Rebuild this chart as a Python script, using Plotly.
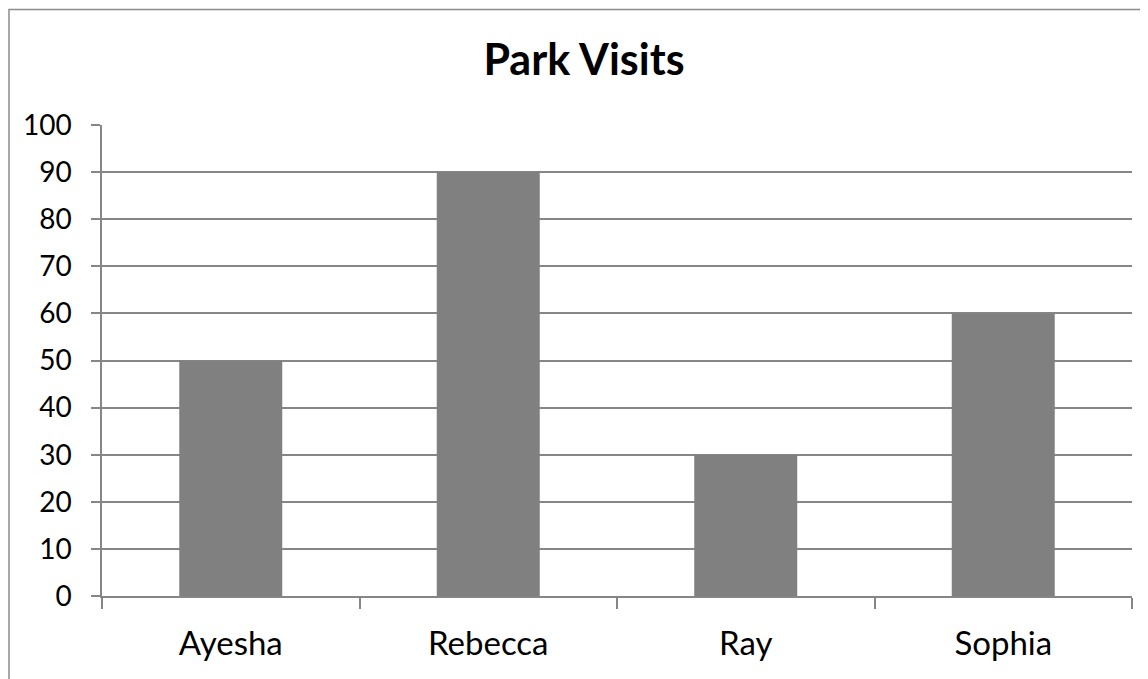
import plotly.graph_objects as go

categories = ["Ayesha", "Rebecca", "Ray", "Sophia"]
visits = [50, 90, 30, 60]
y_ticks = [0, 10, 20, 30, 40, 50, 60, 70, 80, 90, 100]

OFF = 8  # page body margin
W, H = 1148 - OFF, 679 - OFF
L, T = 102 - OFF, 125 - OFF
pw, ph = 1030, 471
R, B = W - L - pw, H - T - ph
grid = "#868686"

fig = go.Figure(go.Bar(x=categories, y=visits, marker=dict(color="#808080", line=dict(width=0))))

fig.update_layout(
    width=W, height=H,
    margin=dict(l=L, r=R, t=T, b=B, pad=0),
    paper_bgcolor="white", plot_bgcolor="white",
    bargap=0.6,
    showlegend=False,
    font=dict(family="Lato", color="black", size=29),
    title=dict(text="<b>Park Visits</b>", x=(584 - OFF) / W, xanchor="center",
               y=1 - (60 - OFF) / H, yanchor="middle", yref="container",
               font=dict(family="Lato", size=43, color="black")),
)
fig.update_xaxes(
    showgrid=False, showline=True, linecolor=grid, linewidth=1.5,
    ticks="outside", tickson="boundaries", ticklen=11, tickcolor=grid, tickwidth=1.5,
    ticklabelstandoff=18, tickfont=dict(size=33),
)
fig.update_yaxes(
    range=[0, 100], tickvals=y_ticks, showgrid=True, gridcolor=grid, gridwidth=1.5,
    showline=True, linecolor=grid, linewidth=1.5, zeroline=False,
    ticks="outside", ticklen=9, tickcolor=grid, tickwidth=1.5,
    ticklabelstandoff=14, tickfont=dict(size=28),
)
# outer chart border (extends past the right and bottom edges, as in the source image)
fig.add_shape(type="rect", xref="paper", yref="paper",
              x0=(1.0 - L) / pw, x1=(W + 20 - L) / pw,
              y0=(T + ph - (H + 20)) / ph, y1=(T + ph - 1.5) / ph,
              line=dict(color="#8c8c8c", width=1.5), fillcolor="rgba(0,0,0,0)", layer="below")

fig.write_html("out.html")
